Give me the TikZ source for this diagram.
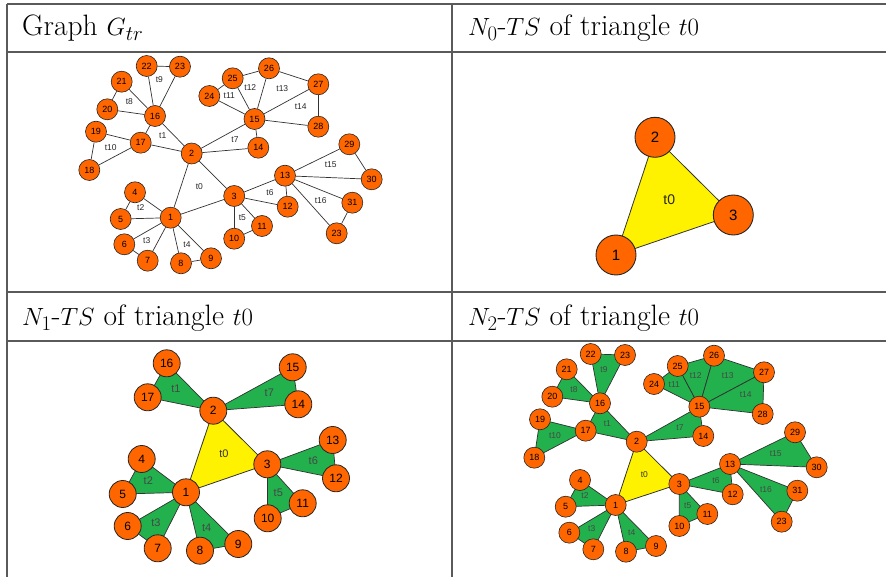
\documentclass[tikz,border=0pt]{standalone}
\usepackage{fontspec}
\setsansfont{Liberation Sans}
\usetikzlibrary{backgrounds}
\definecolor{vor}{RGB}{255,102,0}
\definecolor{tgreen}{RGB}{34,177,76}
\definecolor{tyel}{RGB}{255,242,0}
\definecolor{ecol}{RGB}{50,50,50}
\definecolor{gridcol}{RGB}{90,90,90}
\tikzset{
  vbase/.style={circle, draw=black!85, line width=0.6pt, fill=vor, inner sep=0pt, text=black},
  va/.style={vbase, minimum size=21pt, font=\sffamily\fontsize{9}{9}\selectfont},
  vb/.style={vbase, minimum size=40pt, line width=0.9pt, font=\sffamily\fontsize{15}{15}\selectfont},
  vc/.style={vbase, minimum size=27pt, line width=0.8pt, font=\sffamily\fontsize{12}{12}\selectfont},
  vd/.style={vbase, minimum size=21pt, font=\sffamily\fontsize{9}{9}\selectfont},
  edge/.style={draw=ecol, line width=0.7pt},
  tri/.style={draw=ecol, line width=0.7pt, fill=tgreen},
  ytri/.style={draw=ecol, line width=0.8pt, fill=tyel},
  tla/.style={inner sep=0pt, text=black!85, font=\sffamily\fontsize{8.5}{8.5}\selectfont},
  tlb/.style={inner sep=0pt, text=black!85, font=\sffamily\fontsize{14}{14}\selectfont},
  tlc/.style={inner sep=0pt, text=black!72, font=\sffamily\fontsize{11}{11}\selectfont},
  tld/.style={inner sep=0pt, text=black!72, font=\sffamily\fontsize{8.5}{8.5}\selectfont},
  hdr/.style={anchor=base west, inner sep=0pt, font=\fontsize{29.5}{35}\selectfont},
  grid/.style={draw=gridcol, line width=1.1pt}
}
\begin{document}
\begin{tikzpicture}[x=1pt,y=-1pt]
\useasboundingbox (0,0) rectangle (886,577);
% table
\draw[grid] (7,4) -- (886,4);
\draw[grid] (7,52) -- (886,52);
\draw[grid] (7,292) -- (886,292);
\draw[grid] (7,341) -- (886,341);
\draw[grid] (7,4) -- (7,577);
\draw[grid] (452,4) -- (452,577);
\node[hdr] (h1) at (22,36) {Graph $G_{tr}$};
\node[hdr] (h2) at (468,36) {$N_0$-$TS$ of triangle $t0$};
\node[hdr] (h3) at (22,326) {$N_1$-$TS$ of triangle $t0$};
\node[hdr] (h4) at (468,326) {$N_2$-$TS$ of triangle $t0$};

% ---------- panel 1 ----------
\foreach \n/\x/\y in {1/170.7/217.7, 2/191.7/153.5, 3/234.2/196, 4/135/192.3, 5/120.7/219,
  6/124.3/244.3, 7/147.7/260.7, 8/181/263.3, 9/211/258.3, 10/234.2/238.7, 11/262/226,
  12/287.7/206.7, 13/285/175.7, 14/258.3/147.7, 15/254.5/119, 16/155/116, 17/140.7/142.7,
  18/89.3/170, 19/96/131.7, 20/107.3/109.3, 21/121.7/81.7, 22/146.7/66, 23/180/66.7,
  24/209.3/96, 25/232.7/78.3, 26/269/68.3, 27/318.3/84.3, 28/318.3/126.7, 29/349.3/144.3,
  30/371.7/179.3, 31/352.3/202.7}
  \node[va] (a\n) at (\x,\y) {\n};
\node[va] (a23b) at (336.7,233.3) {23};
\begin{scope}[on background layer]
\foreach \u/\v in {22/23,22/16,23/16,21/20,21/16,20/16,16/17,16/2,17/2,19/17,19/18,18/17,
  2/15,2/14,15/14,24/25,24/15,25/15,25/26,26/15,26/27,27/15,27/28,28/15,2/1,2/3,1/3,
  4/5,4/1,5/1,6/7,6/1,7/1,8/9,8/1,9/1,3/10,3/11,10/11,3/13,3/12,13/12,13/29,13/30,29/30,
  13/31,13/23b,31/23b}
  \draw[edge] (a\u) -- (a\v);
\end{scope}
\foreach \l/\x/\y in {t9/159.3/80, t8/129.3/101.7, t1/162.7/136, t10/110.7/147.7, t7/235/139.3,
  t11/229.3/96, t12/250.3/87.7, t13/282.3/88.3, t14/300.7/106.7, t15/330.7/165, t16/320.7/201,
  t6/270/193, t5/242.3/217.5, t0/199.3/186.7, t4/187/244.7, t2/140.7/207.7, t3/146.7/240.7}
  \node[tla] (la\l) at (\x,\y) {\l};

% ---------- panel 2 ----------
\node[vb] (b1) at (616,255) {1};
\node[vb] (b2) at (655,137.3) {2};
\node[vb] (b3) at (733.3,215) {3};
\begin{scope}[on background layer]
\filldraw[ytri] (b1.center) -- (b2.center) -- (b3.center) -- cycle;
\end{scope}
\node[tlb] (lbt0) at (669.3,199.3) {t0};

% ---------- panel 3 ----------
\foreach \n/\x/\y in {1/186/492.3, 2/213.3/410.7, 3/267.3/464.3, 4/141.7/459, 5/122.7/494,
  6/127.7/526, 7/157.7/548.3, 8/200/550.7, 9/238.3/544, 10/267.7/518.3, 11/302.7/503.3,
  12/336/478.3, 13/332.7/440, 14/298.3/404.3, 15/292.7/367.3, 16/166.7/363.3, 17/147.7/397.3}
  \node[vc] (c\n) at (\x,\y) {\n};
\begin{scope}[on background layer]
\filldraw[ytri] (c1.center) -- (c2.center) -- (c3.center) -- cycle;
\foreach \p/\q/\r in {16/17/2, 2/15/14, 1/4/5, 1/6/7, 1/8/9, 3/10/11, 3/13/12}
  \filldraw[tri] (c\p.center) -- (c\q.center) -- (c\r.center) -- cycle;
\end{scope}
\foreach \l/\x/\y in {t1/176/389, t7/269.3/392.3, t6/313.3/460.7, t2/148.3/480.7,
  t5/278.3/492.7, t3/156/522.3, t4/206.7/527.3}
  \node[tlc] (lc\l) at (\x,\y) {\l};
\node[tlc, text=black!80] (lct0) at (224,453.3) {t0};

% ---------- panel 4 ----------
\foreach \n/\x/\y in {1/615.7/505, 2/636.7/441.7, 3/679.3/484, 4/580/480, 5/565.7/506.7,
  6/569.3/532.7, 7/593.3/549.3, 8/626/551.7, 9/656/546, 10/679.3/526, 11/707.3/514,
  12/732.7/494.3, 13/730/464, 14/703.3/436, 15/699.3/406.7, 16/600/403.3, 17/585.7/430.7,
  18/534.3/457.7, 19/540/419.3, 20/552.3/396.7, 21/566.7/369.3, 22/590.7/354, 23/625/355,
  24/654/384, 25/677.7/366, 26/714/355.7, 27/764/372.3, 28/762.7/414, 29/795/432.3,
  30/816.7/467.3, 31/797.3/490.7}
  \node[vd] (d\n) at (\x,\y) {\n};
\node[vd] (d23b) at (781.7,521.7) {23};
\begin{scope}[on background layer]
\filldraw[ytri] (d1.center) -- (d2.center) -- (d3.center) -- cycle;
\foreach \p/\q/\r in {16/17/2, 22/23/16, 21/20/16, 19/18/17, 2/15/14, 24/25/15, 25/26/15,
  26/27/15, 27/28/15, 1/4/5, 1/6/7, 1/8/9, 3/10/11, 3/13/12, 13/29/30, 13/31/23b}
  \filldraw[tri] (d\p.center) -- (d\q.center) -- (d\r.center) -- cycle;
\end{scope}
\foreach \l/\x/\y in {t9/604/369.3, t8/574/389.3, t1/607.3/424, t10/555/435.7, t2/585/496,
  t3/591.7/529, t4/631.7/532.7, t11/674.3/384.3, t12/695.7/375.7, t13/727.7/376,
  t14/745.7/394.3, t7/680/427.3, t15/775.7/453.3, t6/716/481, t16/766/489.3, t5/687.7/505.7}
  \node[tld] (ld\l) at (\x,\y) {\l};
\node[tld, text=black!80] (ldt0) at (644.3,475) {t0};
\end{tikzpicture}
\end{document}
